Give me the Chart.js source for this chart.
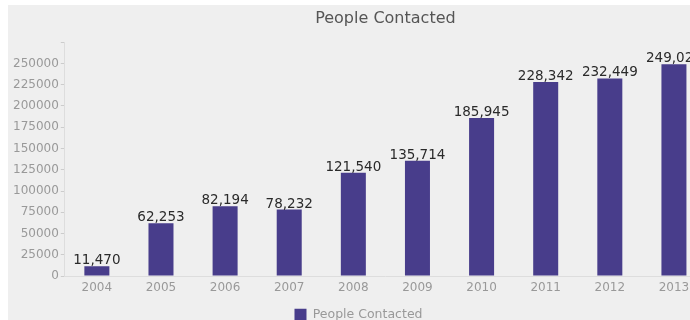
<!DOCTYPE html>
<html>
<head>
<meta charset="utf-8">
<script src="https://cdn.jsdelivr.net/npm/chart.js@4"></script>
<style>
  html, body { margin: 0; padding: 0; background: #fff; overflow: hidden; }
  #wrap { position: absolute; left: 8px; top: 5px; width: 700px; height: 315px; background: #efefef; overflow: hidden; }
  #wrap canvas { display: block; }
</style>
</head>
<body>
<div id="wrap"><canvas id="chart" width="700" height="326"></canvas></div>
<script>
const years = ['2004', '2005', '2006', '2007', '2008', '2009', '2010', '2011', '2012', '2013'];
const peopleContacted = [11470, 62253, 82194, 78232, 121540, 135714, 185945, 228342, 232449, 249025];

const FONT = '"DejaVu Sans", Verdana, sans-serif';

// numbers over the bars
const barLabels = {
  id: 'barLabels',
  afterDatasetsDraw(chart) {
    const ctx = chart.ctx;
    const meta = chart.getDatasetMeta(0);
    ctx.save();
    ctx.font = '13.5px ' + FONT;
    ctx.fillStyle = '#2a2a2a';
    ctx.textAlign = 'center';
    ctx.textBaseline = 'alphabetic';
    meta.data.forEach((bar, i) => {
      ctx.fillText(peopleContacted[i].toLocaleString('en-US'), bar.x, bar.y - 2);
    });
    ctx.restore();
  }
};

new Chart(document.getElementById('chart'), {
  type: 'bar',
  data: {
    labels: years,
    datasets: [{
      label: 'People Contacted',
      data: peopleContacted,
      backgroundColor: '#483d8b',
      borderWidth: 0,
      categoryPercentage: 1,
      barPercentage: 0.39
    }]
  },
  options: {
    responsive: false,
    animation: false,
    layout: { padding: { left: 3, right: 2, top: 0, bottom: 0 } },
    plugins: {
      title: {
        display: true,
        fullSize: false,
        text: 'People Contacted',
        color: '#555',
        font: { family: FONT, size: 16, weight: 'normal' },
        padding: { top: 4, bottom: 14 }
      },
      legend: {
        position: 'bottom',
        labels: {
          color: '#999',
          boxWidth: 12,
          boxHeight: 12,
          padding: 8,
          font: { family: FONT, size: 12.5 }
        }
      },
      tooltip: { enabled: false }
    },
    scales: {
      x: {
        grid: { drawOnChartArea: false, drawTicks: false },
        border: { color: '#ddd' },
        ticks: {
          color: '#999',
          padding: 5,
          font: { family: FONT, size: 12 }
        }
      },
      y: {
        min: 0,
        max: 275000,
        grid: { drawOnChartArea: false, tickLength: 4, color: '#ccc' },
        border: { color: '#ddd' },
        ticks: {
          stepSize: 25000,
          color: '#999',
          padding: 2,
          font: { family: FONT, size: 12 },
          callback: v => (v > 250000 ? '' : String(v))
        }
      }
    }
  },
  plugins: [barLabels]
});
</script>
</body>
</html>
